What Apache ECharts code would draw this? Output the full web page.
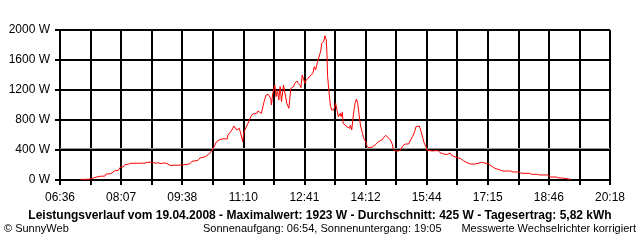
<!DOCTYPE html>
<html>
<head>
<meta charset="utf-8">
<script src="https://cdn.jsdelivr.net/npm/echarts@6/dist/echarts.min.js"></script>
<style>
html,body{margin:0;padding:0;background:#fff;}
#c{width:640px;height:240px;}
</style>
</head>
<body>
<div id="c"></div>
<script>
// tick labels on the x axis (every second gridline)
var xTickLabels = ['06:36','08:07','09:38','11:10','12:41','14:12','15:44','17:15','18:46','20:18'];
// measurement times (minutes of day)
var times = [427,439,441,450,456,463,465,472,474,478,
483,486,490,493,498,501,523,526,535,538,
542,547,551,556,560,578,580,590,593,602,
605,613,620,625,630,635,641,646,647,653,
656,660,664,668,669,671,677,681,684,690,
692,697,701,704,707,711,712,714,717,719,
721,723,725,727,730,732,735,738,741,745,
747,750,752,755,756,758,760,762,764,767,
771,774,776,778,781,784,786,787,790,792,
794,795,796,798,800,802,805,807,808,810,
812,815,816,818,819,822,825,827,829,830,
832,833,835,837,839,841,843,845,848,850,
853,855,858,863,867,872,877,880,883,887,
890,893,894,897,902,905,908,912,917,920,
923,926,928,930,933,935,938,940,943,944,
946,952,956,961,964,969,975,979,981,988,
994,999,1004,1009,1016,1021,1026,1031,1036,1041,
1046,1051,1058,1069,1073,1081,1086,1098,1101,1108,
1113,1125,1128,1138,1141,1146,1148,1159];
// power (W)
var watts = [8,10,35,38,50,52,80,85,97,124,
126,169,172,204,210,222,225,236,238,222,
230,218,228,220,196,198,213,215,249,260,
293,310,356,422,511,540,550,547,600,667,
720,667,689,556,511,644,756,844,880,889,
920,889,1044,1133,1142,1089,1000,1156,1267,1111,
1200,1067,1244,1044,1267,1244,1022,956,1222,1244,
1289,1320,1289,1258,1231,1400,1400,1289,1333,1356,
1400,1422,1511,1467,1578,1667,1733,1822,1844,1923,
1867,1667,1378,1178,1000,933,933,956,1022,933,
844,889,844,902,756,733,711,689,689,733,
667,644,911,1022,1080,1022,867,733,622,556,
511,444,431,440,467,511,533,569,596,556,
533,467,409,387,387,400,453,480,480,533,
578,644,711,733,720,667,569,498,444,400,
387,387,391,391,364,347,340,360,329,302,
289,258,231,213,213,222,236,227,213,187,
156,142,120,120,107,107,89,89,76,76,
67,67,40,40,27,27,9,9];
var averageW = 425;
var titleText = 'Leistungsverlauf vom 19.04.2008 - Maximalwert: 1923 W - Durchschnitt: 425 W - Tagesertrag: 5,82 kWh';
var footLeft = '\u00A9 SunnyWeb';
var footMid = 'Sonnenaufgang: 06:54, Sonnenuntergang: 19:05';
var footRight = 'Messwerte Wechselrichter korrigiert';

var startSec = 6*3600 + 36*60;   // 06:36
var stepSec = 2740;              // one gridline
var endSec = 49320;              // 20:18 - 06:36

var data = times.map(function(t, i){ return [t*60 - startSec, watts[i]]; });

var font = '"Liberation Sans", Arial, sans-serif';
var chart = echarts.init(document.getElementById('c'), null, {renderer:'canvas'});
chart.setOption({
  animation: false,
  backgroundColor: '#ffffff',
  grid: {left: 60, right: 30, top: 30, bottom: 60, containLabel: false, show: false},
  xAxis: {
    type: 'value', min: 0, max: endSec, interval: stepSec,
    axisLine: {show: true, lineStyle: {color: '#000', width: 2}},
    axisTick: {show: true, length: 5, lineStyle: {color: '#000', width: 2}},
    splitLine: {show: true, lineStyle: {color: '#000', width: 2}},
    axisLabel: {
      color: '#000', fontSize: 12, fontFamily: font, margin: 12,
      formatter: function(v){
        var idx = Math.round(v / stepSec);
        return idx % 2 ? '' : xTickLabels[idx/2];
      }
    }
  },
  yAxis: {
    type: 'value', min: 0, max: 2000, interval: 400,
    axisLine: {show: true, lineStyle: {color: '#000', width: 2}},
    axisTick: {show: true, length: 5, lineStyle: {color: '#000', width: 2}},
    splitLine: {show: true, lineStyle: {color: '#000', width: 2}},
    axisLabel: {color: '#000', fontSize: 12, fontFamily: font, margin: 10,
      formatter: function(v){ return String(Math.round(v)) + ' W'; }}
  },
  series: [{
    type: 'line', data: data, showSymbol: false, symbol: 'none',
    lineStyle: {color: '#ff0000', width: 1}, z: 5,
    markLine: {
      silent: true, symbol: ['none','none'], label: {show: false},
      lineStyle: {color: '#999999', width: 1, type: 'solid'},
      data: [{yAxis: averageW}]
    }
  }],
  graphic: [
    {type: 'text', left: 'center', top: 210, style: {text: titleText, font: 'bold 12px ' + font, fill: '#000'}},
    {type: 'text', left: 4, top: 223, style: {text: footLeft, font: '11px ' + font, fill: '#000'}},
    {type: 'text', left: 203, top: 223, style: {text: footMid, font: '11px ' + font, fill: '#000'}},
    {type: 'text', right: 4, top: 223, style: {text: footRight, font: '11px ' + font, fill: '#000'}}
  ]
});
</script>
</body>
</html>
